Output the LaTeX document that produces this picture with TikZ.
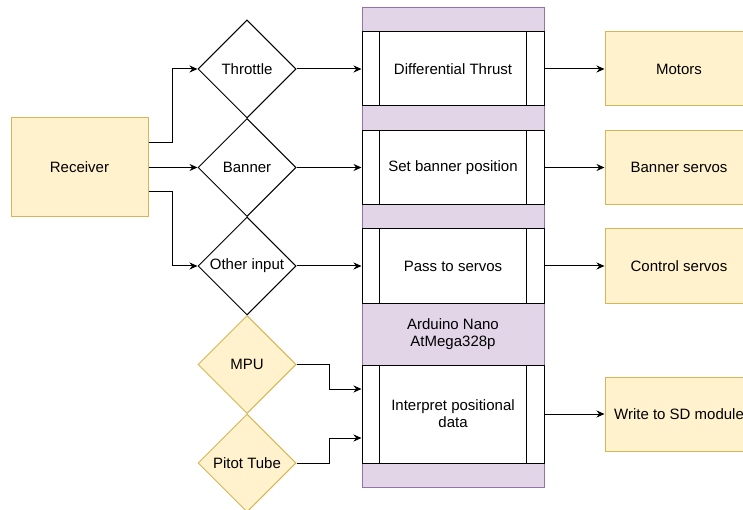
\documentclass[tikz,border=0pt]{standalone}
\usepackage{fontspec}
\setmainfont{Liberation Sans}
\usetikzlibrary{shapes.geometric,arrows.meta}
\definecolor{inyellow}{HTML}{FFF2CC}
\definecolor{edyellow}{HTML}{D6B656}
\definecolor{inpurple}{HTML}{E1D5E7}
\definecolor{edpurple}{HTML}{9673A6}
\tikzset{
  iobox/.style={rectangle,draw=edyellow,fill=inyellow,line width=1pt,minimum width=148pt,minimum height=74pt,inner sep=0pt},
  choice/.style={diamond,draw,fill=white,line width=1pt,minimum width=98pt,minimum height=98pt,inner sep=0pt},
  sensor/.style={choice,draw=edyellow,fill=inyellow},
  process/.style={rectangle,draw,fill=white,line width=1pt,minimum width=182pt,minimum height=74pt,inner sep=0pt,align=center},
  link/.style={-{Stealth[length=8pt,width=7pt]},line width=1pt},
}
\newcommand{\sidebars}[1]{%
  \draw[line width=1pt] ([xshift=18pt]#1.north west) -- ([xshift=18pt]#1.south west);
  \draw[line width=1pt] ([xshift=-18pt]#1.north east) -- ([xshift=-18pt]#1.south east);}
\begin{document}
\begin{tikzpicture}[x=1pt,y=-1pt,font=\fontsize{15}{17}\selectfont]
  \useasboundingbox[fill=white] (0,0) rectangle (743,510);
  % draw arduino box
  \node at(453,247.5)[rectangle,draw=edpurple,fill=inpurple,line width=1pt,minimum width=182pt,minimum height=479pt](arduino){};
  \node at(453,334)[align=center](nano){Arduino Nano\\AtMega328p};
  % draw process boxes
  \node at(453,69)[process,minimum height=74pt](thrust){Differential Thrust};
  \node at(453,167.5)[process](bannerpos){Set banner position};
  \node at(453,266)[process](pass){Pass to servos};
  \node at(453,414)[process,minimum height=98pt](interpret){Interpret positional\\data};
  \sidebars{thrust}
  \sidebars{bannerpos}
  \sidebars{pass}
  \sidebars{interpret}
  % draw receiver box
  \node at(79.5,167.5)[iobox,minimum width=137pt,minimum height=99pt](receiver){Receiver};
  % draw diamonds
  \node at(247,69)[choice](throttle){Throttle};
  \node at(247,167.5)[choice](banner){Banner};
  \node at(247,266)[choice](other){Other input};
  \node at(247,364.5)[sensor](mpu){MPU};
  \node at(247,463)[sensor](pitot){Pitot Tube};
  % draw output boxes
  \node at(679,69)[iobox](motors){Motors};
  \node at(679,167.5)[iobox](bservos){Banner servos};
  \node at(679,266)[iobox](cservos){Control servos};
  \node at(679,414)[iobox](sdcard){Write to SD module};
  % draw arrows from receiver
  \draw [link]([yshift=24.5pt]receiver.east) -- ++(24pt,0) |- (throttle.west);
  \draw [link](receiver.east) -- (banner.west);
  \draw [link]([yshift=-24.5pt]receiver.east) -- ++(24pt,0) |- (other.west);
  % draw arrows into arduino
  \draw [link](throttle.east) -- (thrust.west);
  \draw [link](banner.east) -- (bannerpos.west);
  \draw [link](other.east) -- (pass.west);
  \draw [link](mpu.east) -- ++(33pt,0) |- ([yshift=25pt]interpret.west);
  \draw [link](pitot.east) -- ++(33pt,0) |- ([yshift=-24pt]interpret.west);
  % draw arrows to outputs
  \draw [link](thrust.east) -- (motors.west);
  \draw [link](bannerpos.east) -- (bservos.west);
  \draw [link](pass.east) -- (cservos.west);
  \draw [link](interpret.east) -- (sdcard.west);
\end{tikzpicture}
\end{document}
